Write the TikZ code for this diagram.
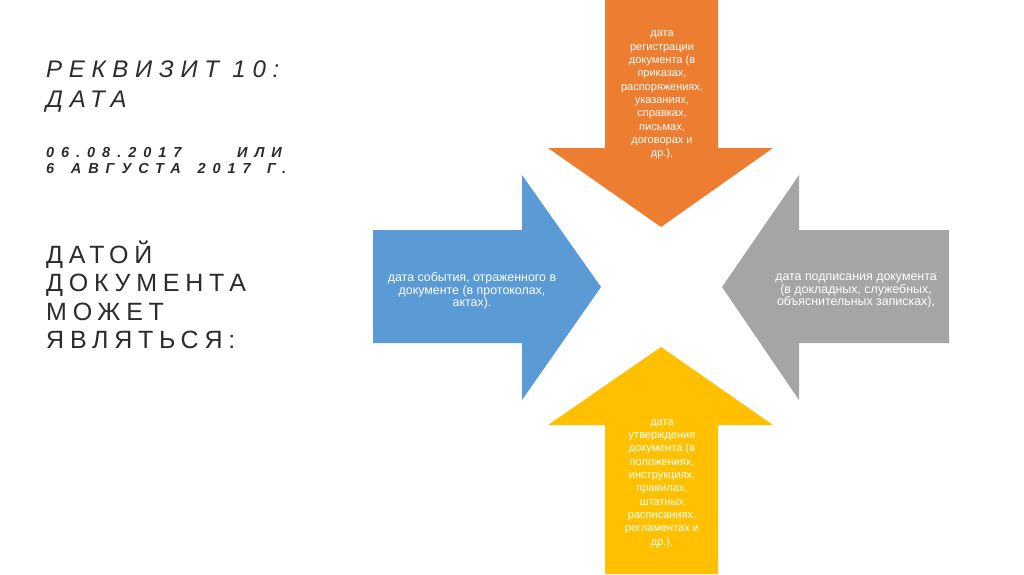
\documentclass[tikz,border=0pt]{standalone}
\usepackage{fontspec}
\setmainfont{Liberation Sans}
\newfontfamily\titlefont[LetterSpace=28]{Liberation Sans}
\newfontfamily\datefont[LetterSpace=48]{Liberation Sans}
\newfontfamily\subfont[LetterSpace=23]{Liberation Sans}
\definecolor{aorange}{HTML}{ED7D31}
\definecolor{ablue}{HTML}{5B9BD5}
\definecolor{agray}{HTML}{A5A5A5}
\definecolor{ayellow}{HTML}{FFC000}
\definecolor{txt}{HTML}{2B2B2B}
\begin{document}
\begin{tikzpicture}[x=1pt,y=-1pt,
  headtxt/.style={inner sep=0pt,anchor=base west,text=txt},
  arrtxt/.style={inner sep=0pt,anchor=north,align=center,text=white,font=\fontsize{11}{13.33}\selectfont},
  sidetxt/.style={inner sep=0pt,anchor=north,align=center,text=white,font=\fontsize{12.4}{11.7}\selectfont}]
\useasboundingbox (0,0) rectangle (1024,574);
\fill[white] (0,0) rectangle (1024,574);
% arrows
\fill[aorange] (605,0) -- (718,0) -- (718,148) -- (773,148) -- (661,227) -- (548,148) -- (605,148) -- cycle;
\fill[ablue] (373,230) -- (522,230) -- (522,175) -- (601,287) -- (522,400) -- (522,343) -- (373,343) -- cycle;
\fill[agray] (949,230) -- (799,230) -- (799,175) -- (722,287) -- (799,400) -- (799,343) -- (949,343) -- cycle;
\fill[ayellow] (605,574) -- (718,574) -- (718,425) -- (773,425) -- (661,347) -- (548,425) -- (605,425) -- cycle;
% arrow texts
\node[arrtxt] (top) at (662,27.4) {\strut дата\\регистрации\\документа (в\\приказах,\\распоряжениях,\\указаниях,\\справках,\\письмах,\\договорах и\\др.),};
\node[sidetxt] (left) at (472,271.8) {\strut дата события, отраженного в\\документе (в протоколах,\\актах).};
\node[sidetxt] (right) at (856,271.8) {\strut дата подписания документа\\(в докладных, служебных,\\объяснительных записках),};
\node[arrtxt] (bottom) at (662,415.7) {\strut дата\\утверждения\\документа (в\\положениях,\\инструкциях,\\правилах,\\штатных\\расписаниях,\\регламентах и\\др.),};
% left texts
\node[headtxt,font=\titlefont\itshape\fontsize{24}{30}\selectfont] (t1) at (46,77) {РЕКВИЗИТ 10:};
\node[headtxt,font=\titlefont\itshape\fontsize{24}{30}\selectfont] (t2) at (46,107) {ДАТА};
\node[headtxt,font=\datefont\bfseries\itshape\fontsize{14.5}{16}\selectfont] (d1) at (46,157) {06.08.2017};
\node[headtxt,anchor=base west,font=\datefont\bfseries\itshape\fontsize{14.5}{16}\selectfont] (d2) at (237,157) {ИЛИ};
\node[headtxt,font=\datefont\bfseries\itshape\fontsize{14.5}{16}\selectfont] (d3) at (46,173) {\makebox[240pt][s]{6\hfill АВГУСТА\hfill 2017\hfill Г.}};
\node[headtxt,font=\subfont\fontsize{25}{28.5}\selectfont] (s1) at (46,263) {ДАТОЙ};
\node[headtxt,font=\subfont\fontsize{25}{28.5}\selectfont] (s2) at (46,291) {ДОКУМЕНТА};
\node[headtxt,font=\subfont\fontsize{25}{28.5}\selectfont] (s3) at (46,320) {МОЖЕТ};
\node[headtxt,font=\subfont\fontsize{25}{28.5}\selectfont] (s4) at (46,348) {ЯВЛЯТЬСЯ:};
\end{tikzpicture}
\end{document}
